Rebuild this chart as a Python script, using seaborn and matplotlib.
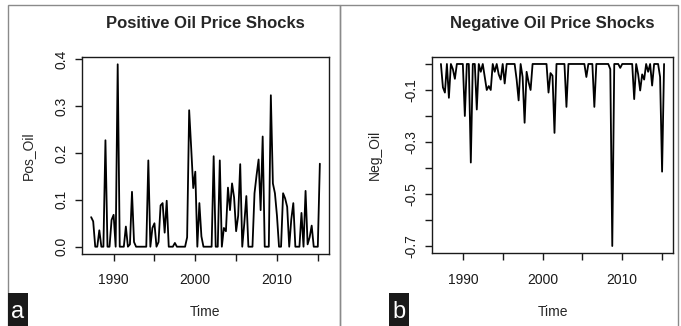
import numpy as np
import pandas as pd
import matplotlib
matplotlib.use("Agg")
import matplotlib.pyplot as plt
import seaborn as sns

# quarterly series, 1987Q2 .. 2015Q2
time = np.arange(1987.25, 2015.5, 0.25)

pos_oil = [0.063, 0.054, 0, 0, 0.035, 0, 0, 0.227, 0, 0,
           0.057, 0.068, 0, 0.389, 0, 0, 0, 0.043, 0, 0.005,
           0.117, 0.01, 0, 0, 0, 0, 0, 0, 0.184, 0,
           0.04, 0.05, 0, 0.01, 0.088, 0.093, 0.03, 0.098, 0, 0,
           0, 0.008, 0, 0, 0, 0, 0, 0.02, 0.291, 0.21,
           0.125, 0.16, 0, 0.093, 0.022, 0, 0, 0, 0, 0,
           0.193, 0, 0, 0.184, 0, 0.04, 0.033, 0.126, 0.078, 0.135,
           0.105, 0.033, 0.066, 0.176, 0, 0.05, 0.108, 0, 0, 0,
           0.114, 0.152, 0.186, 0.078, 0.235, 0, 0, 0, 0.323, 0.135,
           0.114, 0.066, 0, 0, 0.114, 0.103, 0.085, 0, 0.058, 0.093,
           0, 0, 0, 0.072, 0, 0.119, 0.005, 0.02, 0.045, 0,
           0, 0, 0.177]

neg_oil = [0, -0.09, -0.11, 0, -0.13, 0, -0.02, -0.057, 0, 0,
           0, 0, -0.2, 0, 0, -0.379, 0, 0, -0.175, 0,
           -0.03, 0, -0.05, -0.1, -0.085, -0.1, 0, -0.03, 0, -0.04,
           -0.06, 0, -0.075, 0, 0, 0, 0, 0, -0.06, -0.14,
           0, -0.05, -0.226, -0.03, -0.07, -0.1, 0, 0, 0, 0,
           0, 0, 0, 0, -0.11, -0.035, -0.045, -0.265, 0, 0,
           0, 0, 0, -0.165, 0, 0, 0, 0, 0, 0,
           0, 0, 0, -0.05, 0, 0, 0, -0.165, 0, 0,
           0, 0, 0, 0, 0, -0.02, -0.70, 0, 0, 0,
           -0.015, 0, 0, 0, 0, 0, 0, -0.135, 0, -0.04,
           -0.102, -0.04, -0.06, 0, -0.03, 0, -0.083, 0, 0, 0,
           -0.05, -0.414, 0]

year_ticks = [1990, 1995, 2000, 2005, 2010, 2015]
year_labels = ["1990", "", "2000", "", "2010", ""]
pos_ticks = [0.0, 0.1, 0.2, 0.3, 0.4]
pos_labels = ["0.0", "0.1", "0.2", "0.3", "0.4"]
neg_ticks = [0.0, -0.1, -0.2, -0.3, -0.4, -0.5, -0.6, -0.7]
neg_labels = ["", "-0.1", "", "-0.3", "", "-0.5", "", "-0.7"]

df = pd.DataFrame({"Time": time, "Pos_Oil": pos_oil, "Neg_Oil": neg_oil})

sns.set_style("ticks")
plt.rcParams["font.family"] = ["Liberation Sans", "DejaVu Sans"]

W, H = 681, 326
fig = plt.figure(figsize=(W / 100, H / 100), dpi=100)
ax1 = fig.add_axes([82 / W, 1 - 254 / H, 247 / W, 197 / H])
ax2 = fig.add_axes([432 / W, 1 - 253.3 / H, 241 / W, 196.6 / H])


def rpad(lo, hi):
    r = hi - lo
    return lo - 0.04 * r, hi + 0.04 * r


panels = [
    (ax1, "Pos_Oil", "Positive Oil Price Shocks", pos_ticks, pos_labels),
    (ax2, "Neg_Oil", "Negative Oil Price Shocks", neg_ticks, neg_labels),
]
for ax, col, title, yt, yl in panels:
    sns.lineplot(data=df, x="Time", y=col, ax=ax, color="black", lw=1.3)
    ax.set_xlim(*rpad(df["Time"].min(), df["Time"].max()))
    ax.set_ylim(*rpad(df[col].min(), df[col].max()))
    ax.set_xticks(year_ticks)
    ax.set_xticklabels(year_labels, fontsize=10)
    ax.set_yticks(yt)
    ax.set_yticklabels(yl, fontsize=10, rotation=90, va="center")
    ax.tick_params(axis="x", length=5, width=1, pad=9, colors="#1a1a1a")
    ax.tick_params(axis="y", length=5, width=1, pad=5, colors="#1a1a1a")
    for s in ax.spines.values():
        s.set_linewidth(1.0)
        s.set_color("#1a1a1a")
    ax.set_xlabel("Time", fontsize=10, va="center")
    ax.set_ylabel(col, fontsize=10, va="center")
    ax.set_title(title, fontsize=12, fontweight="bold", pad=21)

ax1.xaxis.set_label_coords(0.5, (254 - 312.5) / 197)
ax1.yaxis.set_label_coords((28 - 82) / 247, 0.5)
ax2.xaxis.set_label_coords(0.5, (253.3 - 312) / 196.6)
ax2.yaxis.set_label_coords((375 - 432) / 241, 0.5)

# panel frames
for x0, x1 in [(8, 340), (340, 678)]:
    fig.add_artist(plt.Rectangle((x0 / W, -0.05), (x1 - x0) / W, 1.05 - 5 / H,
                                 transform=fig.transFigure, fill=False,
                                 edgecolor="#8a8a8a", lw=1.0))

# panel letters
for letter, x0 in [("a", 8), ("b", 389)]:
    fig.add_artist(plt.Rectangle((x0 / W, 0), 20 / W, 33 / H,
                                 transform=fig.transFigure, facecolor="#1a1a1a",
                                 edgecolor="none"))
    fig.text((x0 + 10) / W, 14 / H, letter, color="white", fontsize=17,
             ha="center", va="center")

plt.savefig("out.png", dpi=100)
